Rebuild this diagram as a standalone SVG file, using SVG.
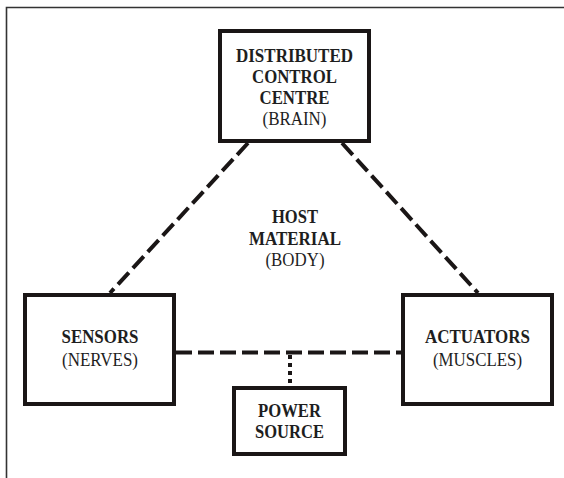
<svg xmlns="http://www.w3.org/2000/svg" width="564" height="478" viewBox="0 0 564 478">
<style>
.box{fill:#fff;stroke:#1a1616;stroke-width:4}
.t{font-family:"Liberation Serif","Times New Roman",serif;font-size:18.5px;fill:#1e1e1e;text-anchor:middle}
.b{font-weight:bold}
.dash{stroke:#1a1616;stroke-width:4;fill:none;stroke-dasharray:16 6}
.dot{stroke:#1a1616;stroke-width:4;fill:none;stroke-dasharray:4 4}
.frame{stroke:#333;stroke-width:1.6;fill:none}
</style>
<rect width="564" height="478" fill="#fff"/>
<path class="frame" d="M6.5,478 V7.5 H564"/>
<g id="connectors">
<line class="dash" x1="248" y1="143" x2="110" y2="293"/>
<line class="dash" x1="342" y1="143" x2="478" y2="293"/>
<line class="dash" x1="176" y1="352.5" x2="401" y2="352.5"/>
<line class="dot" x1="290" y1="355" x2="290" y2="386"/>
</g>
<g id="brain">
<rect class="box" x="220" y="31" width="149" height="110"/>
<text class="t b" x="294.5" y="62" textLength="117" lengthAdjust="spacingAndGlyphs">DISTRIBUTED</text>
<text class="t b" x="294.5" y="83" textLength="85" lengthAdjust="spacingAndGlyphs">CONTROL</text>
<text class="t b" x="294.5" y="104" textLength="70" lengthAdjust="spacingAndGlyphs">CENTRE</text>
<text class="t" x="294.5" y="125" textLength="64" lengthAdjust="spacingAndGlyphs">(BRAIN)</text>
</g>
<g id="body">
<text class="t b" x="295" y="223" textLength="46" lengthAdjust="spacingAndGlyphs">HOST</text>
<text class="t b" x="295" y="244.5" textLength="92" lengthAdjust="spacingAndGlyphs">MATERIAL</text>
<text class="t" x="295" y="266" textLength="59" lengthAdjust="spacingAndGlyphs">(BODY)</text>
</g>
<g id="sensors">
<rect class="box" x="25" y="295" width="149" height="109"/>
<text class="t b" x="100" y="343" textLength="77" lengthAdjust="spacingAndGlyphs">SENSORS</text>
<text class="t" x="100" y="366" textLength="76" lengthAdjust="spacingAndGlyphs">(NERVES)</text>
</g>
<g id="actuators">
<rect class="box" x="403" y="295" width="149" height="109"/>
<text class="t b" x="477.5" y="343" textLength="105" lengthAdjust="spacingAndGlyphs">ACTUATORS</text>
<text class="t" x="477.5" y="366" textLength="89" lengthAdjust="spacingAndGlyphs">(MUSCLES)</text>
</g>
<g id="power">
<rect class="box" x="234" y="388" width="111" height="66"/>
<text class="t b" x="289.5" y="417" textLength="63" lengthAdjust="spacingAndGlyphs">POWER</text>
<text class="t b" x="289.5" y="438" textLength="69" lengthAdjust="spacingAndGlyphs">SOURCE</text>
</g>
</svg>
